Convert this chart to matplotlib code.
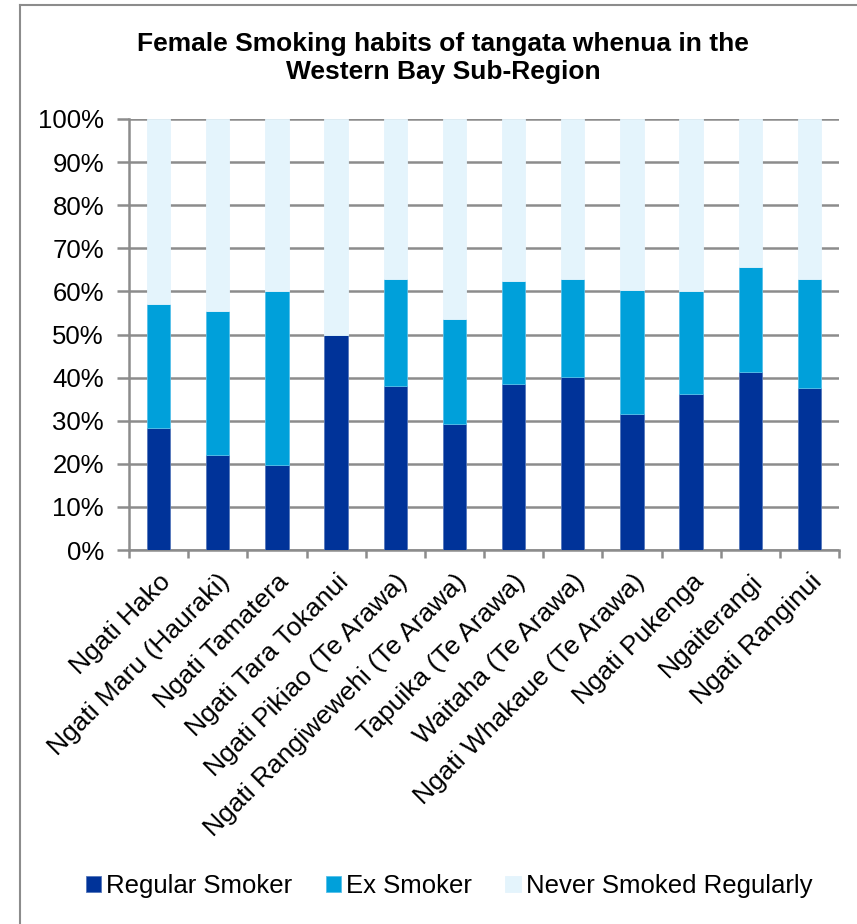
import matplotlib
matplotlib.use("Agg")
import matplotlib.pyplot as plt
from matplotlib.lines import Line2D
from matplotlib.ticker import PercentFormatter
import numpy as np

plt.rcParams['font.family'] = ['Liberation Sans', 'DejaVu Sans']

categories = ["Ngati Hako", "Ngati Maru (Hauraki)", "Ngati Tamatera", "Ngati Tara Tokanui",
              "Ngati Pikiao (Te Arawa)", "Ngati Rangiwewehi (Te Arawa)", "Tapuika (Te Arawa)",
              "Waitaha (Te Arawa)", "Ngati Whakaue (Te Arawa)", "Ngati Pukenga", "Ngaiterangi",
              "Ngati Ranginui"]
regular = [28.4, 22.0, 19.8, 50.0, 38.0, 29.2, 38.4, 40.2, 31.5, 36.2, 41.4, 37.7]
ex = [28.6, 33.5, 40.2, 0.0, 24.9, 24.3, 23.9, 22.7, 28.9, 23.9, 24.2, 25.1]
never = [100 - r - e for r, e in zip(regular, ex)]
series_names = ["Regular Smoker", "Ex Smoker", "Never Smoked Regularly"]
colors = ["#003399", "#00A0DA", "#E4F4FC"]
edges = ["#5577bb", "#55c0ea", "#E4F4FC"]
title = "Female Smoking habits of tangata whenua in the\nWestern Bay Sub-Region"

fig = plt.figure(figsize=(8.57, 9.24), dpi=100)
ax = fig.add_axes([129/857, 1-550/924, 710/857, 431/924])

x = np.arange(len(categories))
bottom = np.zeros(len(categories))
for vals, name, c, ec in zip([regular, ex, never], series_names, colors, edges):
    ax.bar(x, vals, 0.394, bottom=bottom, color=c, edgecolor=ec, linewidth=0.6, label=name, zorder=3)
    bottom += np.array(vals)

ax.set_xlim(-0.5, len(categories) - 0.5)
ax.set_ylim(0, 100)
ax.set_yticks(np.arange(0, 101, 10))
ax.yaxis.set_major_formatter(PercentFormatter(decimals=0))
ax.yaxis.grid(True, color="#8c8c8c", linewidth=1.8, zorder=0)
ax.set_axisbelow(True)

ax.set_xticks(np.arange(-0.5, len(categories), 1.0), minor=False)
ax.set_xticklabels([])
ax.set_xticks(x, minor=True)
ax.set_xticklabels(categories, minor=True, rotation=45, ha="right", va="top",
                   rotation_mode="anchor", fontsize=19)
ax.tick_params(axis="x", which="minor", length=0, pad=14)
ax.tick_params(axis="x", which="major", length=6, width=1.8, color="#8c8c8c", direction="out")
ax.tick_params(axis="y", length=9, width=1.8, color="#8c8c8c", labelsize=18.5, pad=9)

for s in ["top", "right"]:
    ax.spines[s].set_visible(False)
for s in ["left", "bottom"]:
    ax.spines[s].set_color("#8c8c8c")
    ax.spines[s].set_linewidth(1.8)

fig.text(443/857, 1 - 58/924, title, ha="center", va="center", fontsize=19, fontweight="bold",
         linespacing=1.25)

handles, labels = ax.get_legend_handles_labels()
fig.legend(handles, labels, loc="center", bbox_to_anchor=(449/857, 1 - 886/924), ncol=3,
           frameon=False, fontsize=18.5, handlelength=0.6, handleheight=0.6,
           handletextpad=0.2, columnspacing=1.3)

fig.add_artist(Line2D([20/857, 1], [1 - 5/924, 1 - 5/924], color="#8c8c8c", linewidth=1.5))
fig.add_artist(Line2D([20/857, 20/857], [0, 1 - 5/924], color="#8c8c8c", linewidth=1.5))

fig.savefig("out.png", dpi=100)
